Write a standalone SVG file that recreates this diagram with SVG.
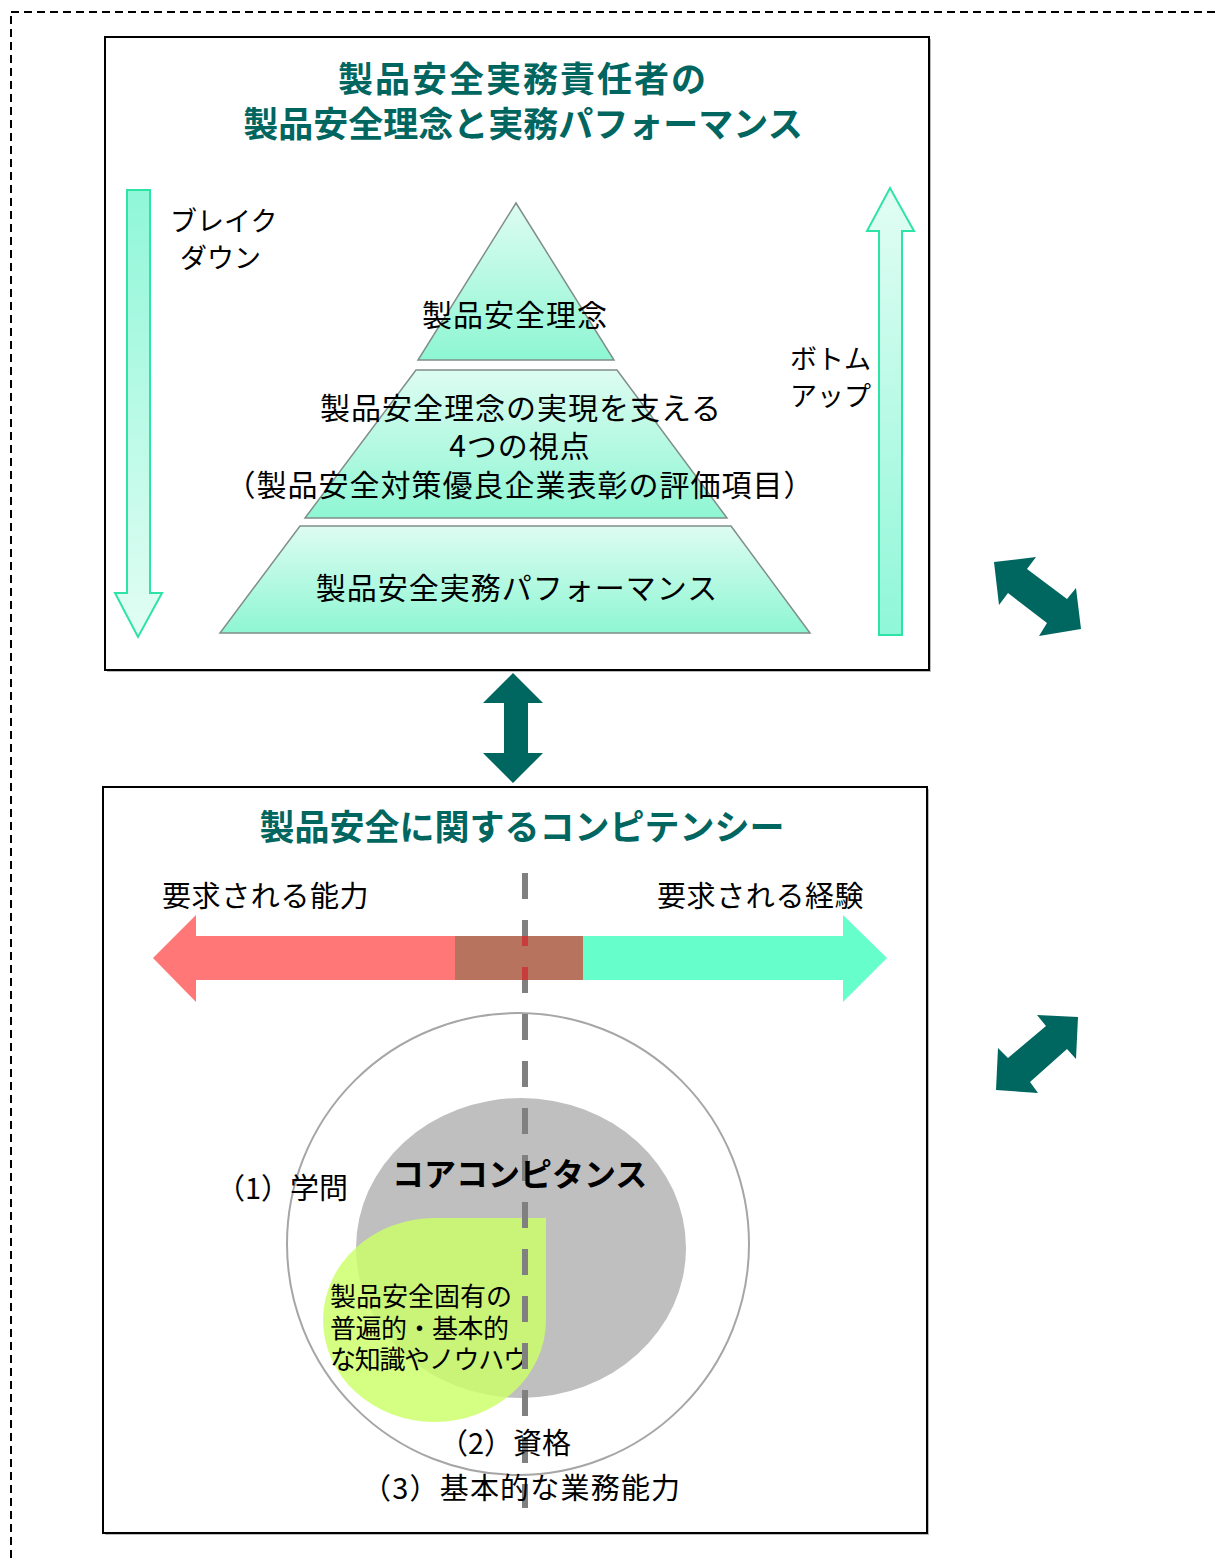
<svg xmlns="http://www.w3.org/2000/svg" width="1218" height="1563" viewBox="0 0 1218 1563">
<style>
text{font-family:"Noto Sans CJK JP","Noto Sans",sans-serif;fill:#000}
.title{font-weight:bold;fill:#00665F;font-size:35px;text-anchor:middle}
.lbl{font-size:29px}
.pyr{font-size:30px;text-anchor:middle;letter-spacing:1px}
.box{fill:#fff;stroke:#000;stroke-width:2}
.layer{fill:url(#gMint);stroke:#7f8f88;stroke-width:1.5}
.teal{fill:#006660}
</style>
<defs>
<linearGradient id="gMint" x1="0" y1="0" x2="0" y2="1">
<stop offset="0" stop-color="#DDFCF2"/><stop offset="1" stop-color="#8EF6D3"/>
</linearGradient>
<linearGradient id="gDown" x1="0" y1="0" x2="0" y2="1">
<stop offset="0" stop-color="#8FF7D7"/><stop offset="1" stop-color="#E2FDF4"/>
</linearGradient>
<linearGradient id="gUp" x1="0" y1="0" x2="0" y2="1">
<stop offset="0" stop-color="#E2FDF4"/><stop offset="1" stop-color="#8FF7D7"/>
</linearGradient>
<clipPath id="arrowBand"><rect x="0" y="936" width="1218" height="44"/></clipPath>
</defs>

<rect x="11" y="12" width="1400" height="1700" fill="none" stroke="#000" stroke-width="2" stroke-dasharray="8 5"/>

<g id="top-box">
<rect x="107" y="39" width="824" height="633" fill="#bbb"/>
<rect class="box" x="105" y="37" width="824" height="633"/>
<text class="title" x="523" y="92" letter-spacing="2">製品安全実務責任者の</text>
<text class="title" x="523" y="137">製品安全理念と実務パフォーマンス</text>
</g>

<g id="breakdown-arrow">
<polygon points="127,190 150,190 150,593 162,593 138,637 115,593 127,593" fill="url(#gDown)" stroke="#2DE3A6" stroke-width="2"/>
<text x="170" y="231" font-size="27">ブレイク</text>
<text x="180" y="268" font-size="27">ダウン</text>
</g>

<g id="bottomup-arrow">
<polygon points="879,635 902,635 902,231 914,231 890,188 867,231 879,231" fill="url(#gUp)" stroke="#2DE3A6" stroke-width="2"/>
<text x="790" y="369" font-size="27">ボトム</text>
<text x="790" y="406" font-size="27">アップ</text>
</g>

<g id="pyramid-top">
<polygon class="layer" points="516,203 614,360 418,360"/>
<text class="pyr" x="515" y="326">製品安全理念</text>
</g>
<g id="pyramid-middle">
<polygon class="layer" points="416,370 617,370 727,518 305,518"/>
<text class="pyr" x="521" y="419">製品安全理念の実現を支える</text>
<text class="pyr" x="520" y="457">4つの視点</text>
<text class="pyr" x="520" y="496" letter-spacing="0">（製品安全対策優良企業表彰の評価項目）</text>
</g>
<g id="pyramid-bottom">
<polygon class="layer" points="300,526 731,526 810,633 220,633"/>
<text class="pyr" x="517" y="599" letter-spacing="0.3">製品安全実務パフォーマンス</text>
</g>

<g id="connectors">
<polygon class="teal" points="513,673 543,703 528,703 528,753 543,753 513,783 483,753 504,753 504,703 483,703"/>
<polygon class="teal" points="994,562 1036,557 1027,569 1067,599 1076,588 1081,629 1039,636 1047,623 1008,593 999,605"/>
<polygon class="teal" points="1078,1017 1037,1015 1046,1026 1008,1058 998,1048 996,1090 1038,1093 1030,1082 1067,1049 1076,1059"/>
</g>

<g id="bottom-box">
<rect x="105" y="789" width="824" height="746" fill="#bbb"/>
<rect class="box" x="103" y="787" width="824" height="746"/>
<text class="title" x="522" y="840" font-size="34.5">製品安全に関するコンピテンシー</text>
</g>

<g id="ability-arrow">
<polygon points="153,958 196,915 196,936 455,936 455,980 196,980 196,1002" fill="#FF7777"/>
<text class="lbl" x="162" y="907" letter-spacing="0.6">要求される能力</text>
</g>
<g id="overlap">
<rect x="455" y="936" width="128" height="44" fill="#B8735E"/>
</g>
<g id="experience-arrow">
<polygon points="583,936 843,936 843,915 887,958 843,1002 843,980 583,980" fill="#66FFCC"/>
<text class="lbl" x="657" y="907" letter-spacing="0.6">要求される経験</text>
</g>

<g id="outer-circle">
<circle cx="518" cy="1244" r="231" fill="none" stroke="#A6A6A6" stroke-width="2"/>
</g>
<g id="core-circle">
<ellipse cx="521" cy="1248" rx="165" ry="150" fill="#BFBFBF"/>
</g>
<g id="knowhow">
<path d="M434.5 1218 L546 1218 L546 1320 A111.5 102 0 0 1 434.5 1422 A111.5 102 0 0 1 323 1320 A111.5 102 0 0 1 434.5 1218 Z" fill="#CCFF66" fill-opacity="0.82"/>
<text x="330" y="1306" font-size="26">製品安全固有の</text>
<text x="330" y="1338" font-size="26" letter-spacing="-0.5">普遍的・基本的</text>
<text x="330" y="1369" font-size="26" letter-spacing="-1.3">な知識やノウハウ</text>
</g>

<g id="divider">
<line x1="525" y1="873" x2="525" y2="1508" stroke="#808080" stroke-width="6" stroke-dasharray="26 21"/>
<line x1="525" y1="873" x2="525" y2="1508" stroke="#C83C3C" stroke-width="6" stroke-dasharray="26 21" clip-path="url(#arrowBand)"/>
</g>

<g id="labels">
<text x="392" y="1186" font-size="32" font-weight="bold">コアコンピタンス</text>
<text class="lbl" x="348" y="1199" text-anchor="end">（1）学問</text>
<text class="lbl" x="439" y="1454">（2）資格</text>
<text class="lbl" x="362" y="1499" letter-spacing="1.2">（3）基本的な業務能力</text>
</g>
</svg>
